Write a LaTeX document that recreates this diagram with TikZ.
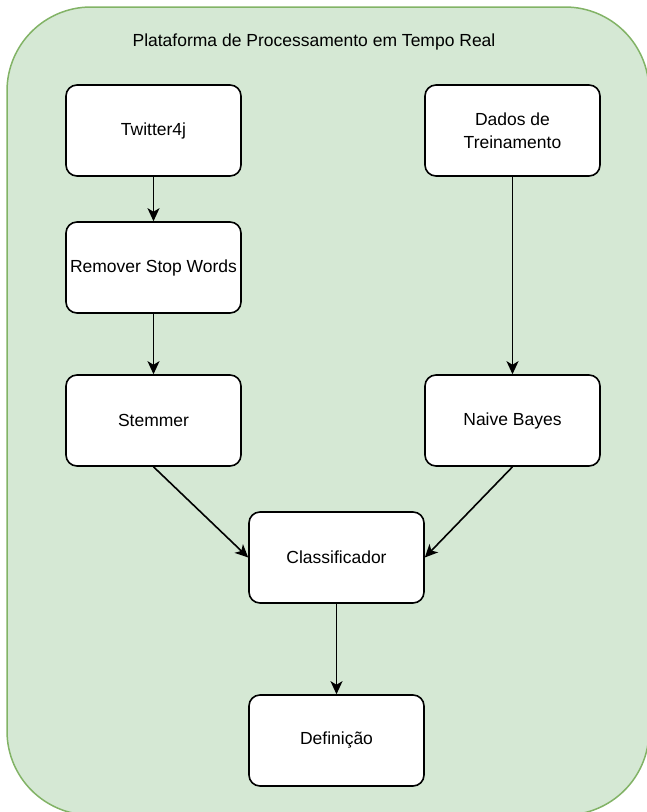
\documentclass[tikz,border=0pt]{standalone}
\usepackage{fontspec}
\setmainfont{Liberation Sans}
\usepackage{tikz}
\usetikzlibrary{arrows.meta}

\definecolor{greenfill}{HTML}{D5E8D4}
\definecolor{greenline}{HTML}{82B366}

\begin{document}
\begin{tikzpicture}[x=1pt, y=-1pt,
        block/.style = {draw, fill = white, line width = 1.6pt, rounded corners = 11pt,
            minimum width = 175pt, minimum height = 91pt, align = center,
            font = \fontsize{17.5}{23}\selectfont},
        flow/.style = {-{Stealth[length = 13pt, width = 12pt, inset = 3.5pt]}, line width = 1.6pt}]
            \useasboundingbox (0, 0) rectangle (647, 812);
            \draw [fill = greenfill, draw = greenline, line width = 1.5pt, rounded corners = 84pt] (7, 7) rectangle (649, 815);
            \node [font = \fontsize{17.5}{21}\selectfont] (title) at (314, 42) {Plataforma de Processamento em Tempo Real};
            \node [block] (twitter) at (153.5, 130.5) {Twitter4j};
            \node [block] (dados) at (512.5, 130.5) {Dados de\\Treinamento};
            \node [block] (remover) at (153.5, 267.5) {Remover Stop Words};
            \node [block] (stemmer) at (153.5, 420.5) {Stemmer};
            \node [block] (naive) at (512.5, 420.5) {Naive Bayes};
            \node [block] (classif) at (336.5, 557.5) {Classificador};
            \node [block] (defin) at (336.5, 740.5) {Definição};
            \draw [flow] (twitter) -- (remover);
            \draw [flow] (remover) -- (stemmer);
            \draw [flow] (dados) -- (naive);
            \draw [flow] (stemmer.south) -- (classif.west);
            \draw [flow] (naive.south) -- (classif.east);
            \draw [flow] (classif) -- (defin);
        \end{tikzpicture}
\end{document}
